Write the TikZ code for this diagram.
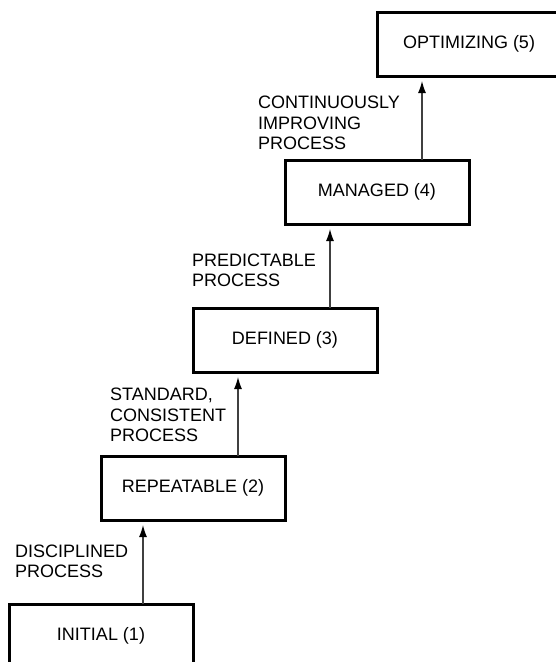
\documentclass[tikz,border=0pt]{standalone}
\usepackage{fontspec}
\setmainfont{Liberation Sans}
\usetikzlibrary{positioning,arrows.meta}

\begin{document}
\begin{tikzpicture}[
  x=1pt, y=-1pt,
  font=\fontsize{18}{20.5}\selectfont,
  level/.style={draw, line width=3pt, minimum width=184pt, minimum height=64pt,
    inner sep=0pt, outer sep=0pt},
  lbl/.style={align=left, inner sep=0pt},
  arr/.style={-{Latex[length=12pt, width=8pt, color=black]}, line width=1.2pt,
    draw=black!75, shorten >=5pt}
]
\useasboundingbox (0,0) rectangle (556,662);
\clip (0,0) rectangle (556,662);
% the five levels, stepping up to the right
\node[level] (initial) at (101,636) {INITIAL (1)};
\node[level, above=84pt of initial, xshift=92pt] (repeatable) {REPEATABLE (2)};
\node[level, above=84pt of repeatable, xshift=92pt] (defined) {DEFINED (3)};
\node[level, above=84pt of defined, xshift=92pt] (managed) {MANAGED (4)};
\node[level, above=84pt of managed, xshift=92pt] (optimizing) {OPTIMIZING (5)};
% what each step gives
\node[lbl, above right=26pt and 6pt of initial.north west] (disc)
  {DISCIPLINED\\PROCESS};
\node[lbl, above right=14pt and 9pt of repeatable.north west] (std)
  {STANDARD,\\CONSISTENT\\PROCESS};
\node[lbl, above right=21pt and -1pt of defined.north west] (pred)
  {PREDICTABLE\\PROCESS};
\node[lbl, above right=10pt and -27pt of managed.north west] (cont)
  {CONTINUOUSLY\\IMPROVING\\PROCESS};
\draw[arr] ([xshift=42pt]initial.north) -- ([xshift=42pt]initial.north |- repeatable.south);
\draw[arr] ([xshift=45pt]repeatable.north) -- ([xshift=45pt]repeatable.north |- defined.south);
\draw[arr] ([xshift=45pt]defined.north) -- ([xshift=45pt]defined.north |- managed.south);
\draw[arr] ([xshift=45pt]managed.north) -- ([xshift=45pt]managed.north |- optimizing.south);
\end{tikzpicture}
\end{document}
